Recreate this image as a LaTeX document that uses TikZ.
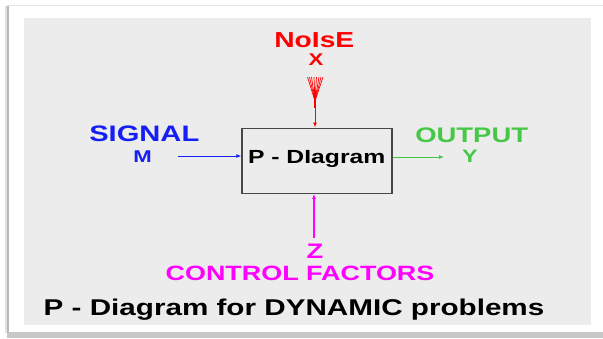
\documentclass[tikz,border=0pt]{standalone}
\usepackage{fontspec}
\newfontfamily\hv{Liberation Sans}[FakeStretch=1.3]
\usetikzlibrary{arrows.meta}
\definecolor{panel}{RGB}{236,236,236}
\definecolor{sigblue}{RGB}{20,30,245}
\definecolor{outgreen}{RGB}{70,200,70}
\definecolor{noisered}{RGB}{255,0,0}
\definecolor{ctrlmag}{RGB}{255,0,255}
\begin{document}
\begin{tikzpicture}[x=1pt,y=-1pt,
  lbl/.style={inner sep=0pt, anchor=base, font=\hv\bfseries},
  tip/.style={-{Latex[length=5pt,width=4pt]}},
  boxstyle/.style={draw=black!72, line width=1.3pt, minimum width=150pt, minimum height=65pt, inner sep=0pt}]
\useasboundingbox (0,0) rectangle (603,338);
\fill[white] (0,0) rectangle (603,338);
% frame with shadow
\fill[black!22] (7,332) rectangle (603,338);
\fill[black!12] (5,6) rectangle (7,333);
\fill[black!28] (7,5) rectangle (9,333);
\fill[black!10] (7,4.5) rectangle (603,5.5);
\fill[white] (9,5.5) rectangle (603,332);
% panel
\fill[panel] (24,18) rectangle (591,325);

% central box
\node[boxstyle] (box) at (317,160.7) {};
\node[lbl] (boxlbl) at (316.7,163) {\fontsize{19}{21}\selectfont P - DIagram};

% noise
\node[lbl, text=noisered] (noise) at (314.3,47.7) {\fontsize{21.7}{24}\selectfont NoIsE};
\node[lbl, text=noisered] (nx) at (316,65.5) {\fontsize{17}{19}\selectfont X};
\coordinate (fanpt) at (315,101);
\foreach \i/\xx in {1/307.5,2/309.5,3/311.5,4/314,5/316.5,6/319,7/321,8/323}{
  \coordinate (fan\i) at (\xx,77);
  \draw[noisered, line width=0.7pt] (fan\i) -- (fanpt);
}
\coordinate (fantop) at (315,90);
\coordinate (fanbot) at (315,108);
\draw[noisered, line width=2.6pt] (fantop) -- (fanbot);
\draw[noisered, line width=1pt, tip] (fanbot) -- (fanbot |- box.north);

% signal
\node[lbl, text=sigblue] (signal) at (144.3,141.7) {\fontsize{22.4}{25}\selectfont SIGNAL};
\node[lbl, text=sigblue] (sm) at (142.5,162) {\fontsize{17}{19}\selectfont M};
\coordinate (sstart) at (178,156);
\draw[sigblue, line width=0.9pt, tip] (sstart) -- (sstart -| box.west);

% output
\node[lbl, text=outgreen] (output) at (471.7,142.3) {\fontsize{21.1}{24}\selectfont OUTPUT};
\node[lbl, text=outgreen] (oy) at (470,162) {\fontsize{18}{20}\selectfont Y};
\coordinate (oend) at (444,157);
\draw[outgreen, line width=0.9pt, tip] (oend -| box.east) -- (oend);

% control factors
\node[lbl, text=ctrlmag] (cz) at (315,258) {\fontsize{21}{23}\selectfont Z};
\node[lbl, text=ctrlmag] (ctrl) at (300,280.7) {\fontsize{20.7}{23}\selectfont CONTROL FACTORS};
\coordinate (cstart) at (314,238);
\draw[ctrlmag, line width=1.2pt, tip] (cstart) -- (cstart |- box.south);

% caption
\node[lbl, anchor=base west] (caption) at (43.5,315) {\fontsize{22.8}{25}\selectfont P - Diagram for DYNAMIC problems};
\end{tikzpicture}
\end{document}
